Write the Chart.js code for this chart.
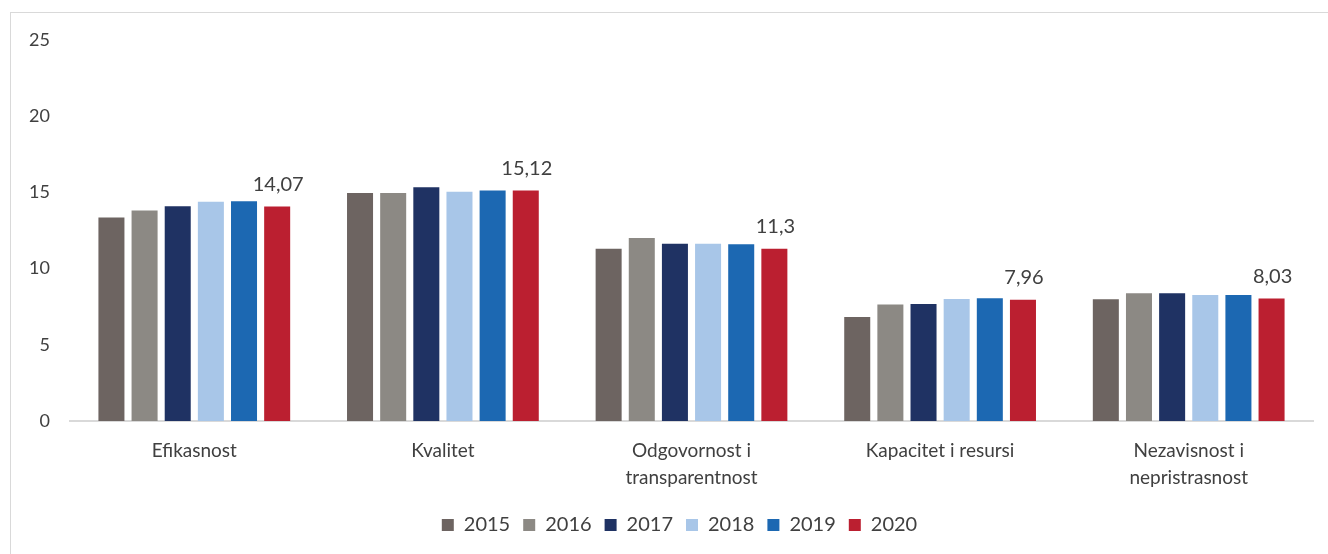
<!DOCTYPE html>
<html>
<head>
<meta charset="utf-8">
<script src="https://cdn.jsdelivr.net/npm/chart.js@4.4.1/dist/chart.umd.min.js"></script>
<style>
  html, body { margin: 0; padding: 0; background: #ffffff; }
  #wrap { position: relative; width: 1328px; height: 554px; overflow: hidden; }
  #frame { position: absolute; left: 10px; top: 12px; width: 1340px; height: 600px; border: 1.5px solid #d9d9d9; box-sizing: border-box; pointer-events: none; }
  canvas { position: absolute; left: 0; top: 0; }
</style>
</head>
<body>
<div id="wrap">
  <canvas id="c" width="1328" height="554"></canvas>
  <div id="frame"></div>
</div>
<script>
const categories = [
  "Efikasnost",
  "Kvalitet",
  ["Odgovornost i", "transparentnost"],
  "Kapacitet i resursi",
  ["Nezavisnost i", "nepristrasnost"]
];
const years = ["2015", "2016", "2017", "2018", "2019", "2020"];
const v2015 = [13.36, 14.96, 11.30, 6.83, 7.99];
const v2016 = [13.82, 14.96, 12.00, 7.65, 8.38];
const v2017 = [14.09, 15.34, 11.63, 7.67, 8.38];
const v2018 = [14.38, 15.05, 11.63, 8.00, 8.27];
const v2019 = [14.42, 15.12, 11.59, 8.05, 8.27];
const v2020 = [14.07, 15.12, 11.30, 7.96, 8.03];
const yTicks = [0, 5, 10, 15, 20, 25];
const colors = ["#6d6461", "#8c8984", "#1f3263", "#a8c6e8", "#1c68b2", "#bb1f30"];
const seriesValues = [v2015, v2016, v2017, v2018, v2019, v2020];

const FONT = "Lato, 'Open Sans', sans-serif";
const TEXT = "#404040";

const labelPlugin = {
  id: "lastLabels",
  afterLayout(chart) {
    if (chart.legend) {
      chart.legend.left += 23;
      chart.legend.right += 23;
    }
  },
  afterDatasetsDraw(chart) {
    const ctx = chart.ctx;
    const idx = chart.data.datasets.length - 1;
    const meta = chart.getDatasetMeta(idx);
    const data = chart.data.datasets[idx].data;
    ctx.save();
    ctx.font = "20px " + FONT;
    ctx.fillStyle = TEXT;
    ctx.textAlign = "center";
    ctx.textBaseline = "bottom";
    meta.data.forEach((bar, i) => {
      ctx.fillText(String(data[i]).replace(".", ","), bar.x + 1, bar.y - 12);
    });
    ctx.restore();
  }
};

new Chart(document.getElementById("c"), {
  type: "bar",
  data: {
    labels: categories,
    datasets: years.map((y, i) => ({
      label: y,
      data: seriesValues[i],
      backgroundColor: colors[i],
      borderWidth: 0,
      categoryPercentage: 0.8,
      barPercentage: 0.785
    }))
  },
  options: {
    responsive: false,
    animation: false,
    layout: { padding: { top: 40, right: 15, bottom: 9, left: 0 } },
    plugins: {
      legend: {
        position: "bottom",
        labels: {
          font: { family: FONT, size: 20 },
          color: TEXT,
          boxWidth: 12,
          boxHeight: 12,
          padding: 13
        }
      },
      tooltip: { enabled: false }
    },
    scales: {
      x: {
        grid: { display: false },
        border: { display: true, color: "#d9d9d9", width: 2 },
        ticks: {
          font: { family: FONT, size: 19, lineHeight: 1.42 },
          color: TEXT,
          padding: 8,
          maxRotation: 0,
          autoSkip: false
        },
        afterFit(scale) { scale.height = 81; }
      },
      y: {
        min: 0,
        max: 25,
        grid: { display: false },
        border: { display: false },
        afterBuildTicks(scale) { scale.ticks = yTicks.map(v => ({ value: v })); },
        ticks: {
          font: { family: FONT, size: 18 },
          color: TEXT,
          padding: 12
        },
        afterFit(scale) { scale.width = 70; }
      }
    }
  },
  plugins: [labelPlugin]
});
</script>
</body>
</html>
